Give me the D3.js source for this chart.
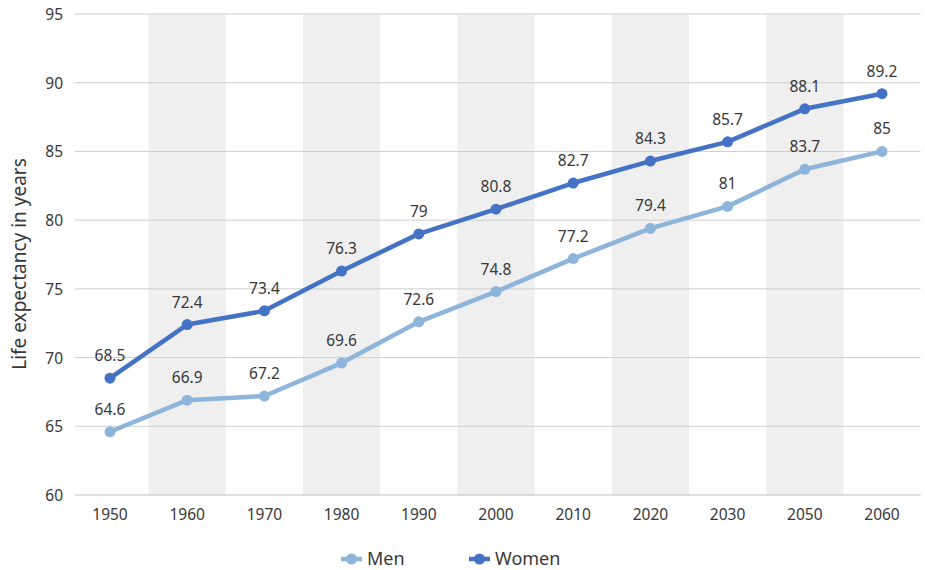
<!DOCTYPE html>
<html><head><meta charset="utf-8">
<script src="https://cdn.jsdelivr.net/npm/d3@7"></script>
<style>body{margin:0;background:#fff}svg{display:block}text{font-family:"Noto Sans","Open Sans",sans-serif;fill:#383838}</style>
</head><body><svg id="c" width="925" height="570"></svg>
<script>
const years = ["1950","1960","1970","1980","1990","2000","2010","2020","2030","2050","2060"];
const men = [64.6,66.9,67.2,69.6,72.6,74.8,77.2,79.4,81,83.7,85];
const women = [68.5,72.4,73.4,76.3,79,80.8,82.7,84.3,85.7,88.1,89.2];
const yTicks = [60,65,70,75,80,85,90,95];
const seriesNames = ["Men","Women"];
const colors = {Men:"#8db4da", Women:"#4472c4"};

const svg = d3.select("#c");
const x = d3.scaleBand().domain(years).range([71.4, 920.6]).padding(0);
const y = d3.scaleLinear().domain([60,95]).range([495,14]);

// shaded bands
svg.append("g").selectAll("rect").data(years.filter((d,i)=>i%2===1)).join("rect")
  .attr("x", d=>x(d)).attr("width", x.bandwidth())
  .attr("y", y(95)).attr("height", y(60)-y(95)).attr("fill","#efefef");

// gridlines
svg.append("g").selectAll("line").data(yTicks).join("line")
  .attr("x1",75).attr("x2",920.6).attr("y1",d=>y(d)).attr("y2",d=>y(d))
  .attr("stroke",d=>d===60?"#bfbfbf":"#cfcfcf").attr("stroke-width",1);

// y axis labels
const yAxis = d3.axisLeft(y).tickValues(yTicks).tickSize(0).tickPadding(0);
const ya = svg.append("g").attr("transform","translate(63,0)").call(yAxis);
ya.select(".domain").remove();
ya.selectAll("text").style("font-size","15.5px").attr("fill","#383838").attr("dy","0.35em");

// x axis labels
const xAxis = d3.axisBottom(x).tickSize(0).tickPadding(0);
const xa = svg.append("g").attr("transform","translate(0,508)").call(xAxis);
xa.select(".domain").remove();
xa.selectAll("text").style("font-size","15.5px").attr("fill","#383838").attr("dy","0.8em");

// y title
svg.append("text").attr("transform","translate(26,264) rotate(-90)")
  .attr("text-anchor","middle").style("font-size","19px").text("Life expectancy in years");

const cx = d => x(d) + x.bandwidth()/2;
const line = d3.line().x(d=>cx(d.year)).y(d=>y(d.v));
const data = {Men: years.map((yr,i)=>({year:yr,v:men[i]})), Women: years.map((yr,i)=>({year:yr,v:women[i]}))};

seriesNames.forEach(name=>{
  const g = svg.append("g");
  g.append("path").datum(data[name]).attr("d",line).attr("fill","none")
    .attr("stroke",colors[name]).attr("stroke-width",4.5).attr("stroke-linejoin","round");
  g.selectAll("circle").data(data[name]).join("circle")
    .attr("cx",d=>cx(d.year)).attr("cy",d=>y(d.v)).attr("r",5.5).attr("fill",colors[name]);
  g.selectAll("text.lbl").data(data[name]).join("text").attr("class","lbl")
    .attr("x",d=>cx(d.year)).attr("y",d=>y(d.v)-17).attr("text-anchor","middle")
    .style("font-size","15.5px").text(d=>d.v);
});

// legend
const legend = [{name:"Men", x:341},{name:"Women", x:469}];
legend.forEach(l=>{
  const g = svg.append("g");
  g.append("line").attr("x1",l.x).attr("x2",l.x+21).attr("y1",559).attr("y2",559)
    .attr("stroke",colors[l.name]).attr("stroke-width",4.5);
  g.append("circle").attr("cx",l.x+10.5).attr("cy",559).attr("r",5.5).attr("fill",colors[l.name]);
  g.append("text").attr("x",l.x+26).attr("y",559).attr("dy","0.35em").style("font-size","18px").text(l.name);
});
</script></body></html>
